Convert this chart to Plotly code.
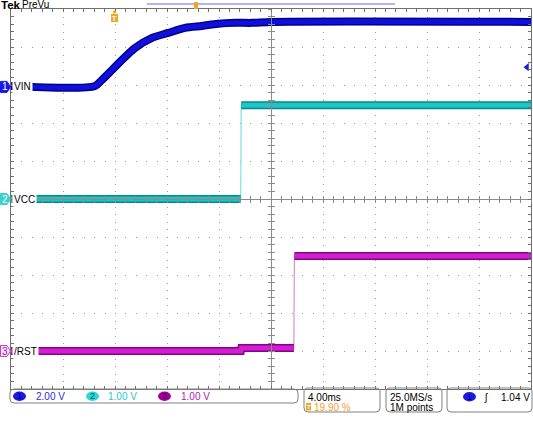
import plotly.graph_objects as go

# ---------------- data ----------------
TIME_PER_DIV = 4.0          # ms/div
N_HDIV = 10
N_VDIV = 10
TRIG_POS = 19.90            # % of record
TRIG_LEVEL = 1.04           # V on ch1

ch_names = ["VIN", "VCC", "/RST"]
ch_scale = [2.0, 1.0, 1.0]  # V/div
ch_pos = [2.95, 0.0, -4.0]  # div

vin_t = [-7.96, -1.50, -0.96, -0.19, 0.58, 1.58, 2.89, 4.12, 5.42, 6.73, 7.96, 9.27, 10.58, 12.12, 32.04]
vin_v = [0.05, 0.05, 0.37, 0.89, 1.42, 2.05, 2.58, 2.84, 3.11, 3.21, 3.32, 3.37, 3.37, 3.42, 3.42]

vcc_t = [-7.96, 9.71, 9.75, 32.04]
vcc_v = [0.0, 0.0, 2.47, 2.47]

rst_t = [-7.96, 9.72, 9.76, 13.80, 13.84, 32.04]
rst_v = [0.0, 0.0, 0.08, 0.08, 2.50, 2.50]

status_scale_txt = ["2.00 V", "1.00 V", "1.00 V"]
status_time_txt = "4.00ms"
status_trig_txt = "19.90 %"
status_rate_txt = ["25.0MS/s", "1M points"]
status_level_txt = "1.04 V"

# ---------------- layout geometry ----------------
W, H = 533, 421
ML, MR, MT, MB = 11, 2, 9, 32
PW, PH = W - ML - MR, H - MT - MB
t_left = -TRIG_POS / 100 * N_HDIV * TIME_PER_DIV
t_right = t_left + N_HDIV * TIME_PER_DIV
FONT = "Liberation Sans"


def px(X):
    return (X - ML) / PW


def py(Y):
    return (H - MB - Y) / PH


dark = ["#000090", "#008a8a", "#8a008a"]
bright = ["#1010d8", "#20c4c4", "#d020d0"]
light = ["#5a5aff", "#86dede", "#d890d8"]
shape_mode = ["spline", "linear", "linear"]

fig = go.Figure()

waves = [(vin_t, vin_v), (vcc_t, vcc_v), (rst_t, rst_v)]
for i, (tt, vv) in enumerate(waves):
    yd = [v / ch_scale[i] + ch_pos[i] for v in vv]
    fig.add_trace(go.Scatter(x=tt, y=yd, mode="lines", line=dict(color=light[i], width=1.2),
                             showlegend=False, hoverinfo="skip"))
    bx, by = [tt[0]], [yd[0]]
    for k in range(1, len(tt)):
        slope = abs(vv[k] - vv[k - 1]) / max(tt[k] - tt[k - 1], 1e-9)
        if slope > 5:
            bx.append(None)
            by.append(None)
        bx.append(tt[k])
        by.append(yd[k])
    fig.add_trace(go.Scatter(x=bx, y=by, mode="lines",
                             line=dict(color=dark[i], width=8, shape=shape_mode[i], smoothing=0.8),
                             showlegend=False, hoverinfo="skip", connectgaps=False))
    fig.add_trace(go.Scatter(x=bx, y=by, mode="lines",
                             line=dict(color=bright[i], width=5, shape=shape_mode[i], smoothing=0.8),
                             showlegend=False, hoverinfo="skip", connectgaps=False))

fig.add_trace(go.Scatter(x=[t_right - 4 * TIME_PER_DIV / 52], y=[TRIG_LEVEL / ch_scale[0] + ch_pos[0]],
                         mode="markers", marker=dict(symbol="triangle-left", size=7, color="#1a1ae6"),
                         cliponaxis=False, showlegend=False, hoverinfo="skip"))

fig.add_trace(go.Scatter(x=[None], y=[None], xaxis="x2", yaxis="y2", showlegend=False, hoverinfo="skip"))
fig.add_trace(go.Scatter(x=[None], y=[None], xaxis="x3", yaxis="y3", showlegend=False, hoverinfo="skip"))

frame_c = "#707070"
grid_c = "#9a9a9a"
cross_c = "#8a8a8a"

xbase = dict(range=[t_left, t_right], showticklabels=False, zeroline=False, fixedrange=True)
ybase = dict(range=[-N_VDIV / 2, N_VDIV / 2], showticklabels=False, zeroline=False, fixedrange=True)

fig.update_layout(
    width=W, height=H, margin=dict(l=ML, r=MR, t=MT, b=MB, pad=0, autoexpand=False),
    paper_bgcolor="white", plot_bgcolor="white", showlegend=False,
    font=dict(family=FONT, size=10, color="black"),
    xaxis=dict(**xbase, tick0=t_left, dtick=TIME_PER_DIV, showgrid=True, gridcolor=grid_c,
               griddash="1px,6.6px", gridwidth=1, showline=True, linecolor=frame_c, linewidth=1,
               mirror="allticks", ticks="inside", ticklen=3, tickcolor=frame_c,
               minor=dict(tick0=t_left, dtick=TIME_PER_DIV / 5, ticks="inside", ticklen=3,
                          tickcolor=frame_c, showgrid=False)),
    yaxis=dict(**ybase, tick0=0, dtick=1, showgrid=True, gridcolor=grid_c,
               griddash="1px,9.4px", gridwidth=1, showline=True, linecolor=frame_c, linewidth=1,
               mirror="allticks", ticks="inside", ticklen=3, tickcolor=frame_c,
               minor=dict(tick0=0, dtick=0.2, ticks="inside", ticklen=3, tickcolor=frame_c,
                          showgrid=False)),
    xaxis2=dict(**xbase, overlaying="x", anchor="free", position=0.5, showgrid=False,
                showline=True, linecolor=cross_c, linewidth=1, ticks="outside", ticklen=3,
                tickcolor=cross_c, tick0=t_left, dtick=TIME_PER_DIV / 5),
    xaxis3=dict(**xbase, overlaying="x", anchor="free", position=0.5, showgrid=False,
                showline=False, ticks="inside", ticklen=3,
                tickcolor=cross_c, tick0=t_left, dtick=TIME_PER_DIV / 5),
    yaxis2=dict(**ybase, overlaying="y", anchor="free", position=0.5, showgrid=False,
                showline=True, linecolor=cross_c, linewidth=1, ticks="outside", ticklen=3,
                tickcolor=cross_c, tick0=0, dtick=0.2),
    yaxis3=dict(**ybase, overlaying="y", anchor="free", position=0.5, showgrid=False,
                showline=False, ticks="inside", ticklen=3,
                tickcolor=cross_c, tick0=0, dtick=0.2),
)

shapes = []
ann = []


def text(X, Y, s, color="black", size=10, bold=False, anchor="left", bg=None):
    a = dict(xref="paper", yref="paper", x=px(X), y=py(Y), text=("<b>%s</b>" % s) if bold else s,
             showarrow=False, xanchor=anchor, yanchor="middle", borderpad=0,
             font=dict(family=FONT, size=size, color=color))
    if bg:
        a["bgcolor"] = bg
    ann.append(a)


def rrect(X0, Y0, X1, Y1, r=4, color="#808080"):
    p = ("M %f,%f L %f,%f Q %f,%f %f,%f L %f,%f Q %f,%f %f,%f L %f,%f Q %f,%f %f,%f "
         "L %f,%f Q %f,%f %f,%f Z") % (
        px(X0 + r), py(Y0), px(X1 - r), py(Y0), px(X1), py(Y0), px(X1), py(Y0 + r),
        px(X1), py(Y1 - r), px(X1), py(Y1), px(X1 - r), py(Y1),
        px(X0 + r), py(Y1), px(X0), py(Y1), px(X0), py(Y1 - r),
        px(X0), py(Y0 + r), px(X0), py(Y0), px(X0 + r), py(Y0))
    shapes.append(dict(type="path", xref="paper", yref="paper", path=p,
                       line=dict(color=color, width=1), fillcolor="rgba(0,0,0,0)"))


def ellipse(X0, Y0, X1, Y1, fill):
    shapes.append(dict(type="circle", xref="paper", yref="paper", x0=px(X0), x1=px(X1),
                       y0=py(Y1), y1=py(Y0), fillcolor=fill, line=dict(width=0)))


# ---- top bar ----
text(-0.5, 5, "Tek", bold=True, size=11.5)
text(21, 5, "PreVu", size=10)
shapes.append(dict(type="line", xref="paper", yref="paper", x0=px(147), x1=px(395), y0=py(4), y1=py(4),
                   line=dict(color="#6464ff", width=1)))
shapes.append(dict(type="rect", xref="paper", yref="paper", x0=px(194), x1=px(198), y0=py(9), y1=py(2),
                   fillcolor="#f5a623", line=dict(width=0)))

# ---- trigger position marker ----
XT = ML + (0 - t_left) / (t_right - t_left) * PW
shapes.append(dict(type="path", xref="paper", yref="paper",
                   path="M %f,%f L %f,%f L %f,%f L %f,%f Z" % (px(XT - 2), py(12), px(XT), py(10),
                                                              px(XT + 2), py(12), px(XT), py(14)),
                   fillcolor="#f5a623", line=dict(width=0)))
shapes.append(dict(type="rect", xref="paper", yref="paper", x0=px(XT - 3.5), x1=px(XT + 3.5),
                   y0=py(22), y1=py(14), fillcolor="#f5a623", line=dict(width=0)))
text(XT, 18.5, "T", color="white", size=7, bold=True, anchor="center")

# ---- channel markers and labels ----
mk_fill = ["#1a1ae6", "#3ccfcf", "#f4e0f4"]
mk_line = ["#1a1ae6", "#3ccfcf", "#c040c0"]
mk_txt = ["white", "white", "#a020a0"]
h = 5.5 / (PH / N_VDIV)
for i in range(3):
    yc = ch_pos[i]
    p = "M %f,%f L %f,%f L %f,%f L %f,%f L %f,%f Z" % (
        px(0.5), yc + h, px(7), yc + h, px(10.5), yc, px(7), yc - h, px(0.5), yc - h)
    shapes.append(dict(type="path", xref="paper", yref="y", path=p, fillcolor=mk_fill[i],
                       line=dict(color=mk_line[i], width=1)))
    ann.append(dict(xref="paper", yref="y", x=px(4.5), y=yc, text=str(i + 1), showarrow=False,
                    xanchor="center", yanchor="middle", font=dict(family=FONT, size=10, color=mk_txt[i])))
    ann.append(dict(xref="paper", yref="y", x=px(11.5), y=yc, text=ch_names[i], showarrow=False,
                    xanchor="left", yanchor="middle", bgcolor="white", borderpad=1,
                    font=dict(family=FONT, size=10, color="black")))

# ---- bottom status boxes ----
rrect(10, 389, 298, 403)
rrect(304, 388, 380, 412)
rrect(386, 388, 442, 412)
rrect(447, 388, 532, 412)

ell_fill = ["#1a1ae6", "#30d6d6", "#a000a0"]
ell_txt = ["#000070", "#005a5a", "#400040"]
sc_col = ["#2a2ae0", "#2cc4d4", "#b020b0"]
ell_x = [13, 86, 158]
txt_x = [35, 107, 180]
for i in range(3):
    ellipse(ell_x[i], 391.5, ell_x[i] + 13, 401, ell_fill[i])
    text(ell_x[i] + 6.5, 396.5, str(i + 1), color=ell_txt[i], size=9, anchor="center")
    text(txt_x[i], 396.5, status_scale_txt[i], color=sc_col[i], size=10)

text(307, 397, status_time_txt, size=10)
shapes.append(dict(type="rect", xref="paper", yref="paper", x0=px(306), x1=px(311), y0=py(410.5),
                   y1=py(403), fillcolor="#f5a623", line=dict(width=0)))
text(308.5, 406.8, "T", color="white", size=6, bold=True, anchor="center")
text(313, 407, status_trig_txt, color="#f0a030", size=10)

text(389, 397, status_rate_txt[0], size=10)
text(389, 407, status_rate_txt[1], size=10)

ellipse(463, 392, 476, 401.5, "#1a1ae6")
text(469.5, 397, "1", color="#000070", size=9, anchor="center")
text(483, 397, "ʃ", size=10)
text(500, 397, status_level_txt, size=10)

fig.update_layout(shapes=shapes, annotations=ann)
fig.write_html("out.html", config={"displayModeBar": False},
               post_script="document.body.style.margin='0';document.body.style.overflow='hidden';")
